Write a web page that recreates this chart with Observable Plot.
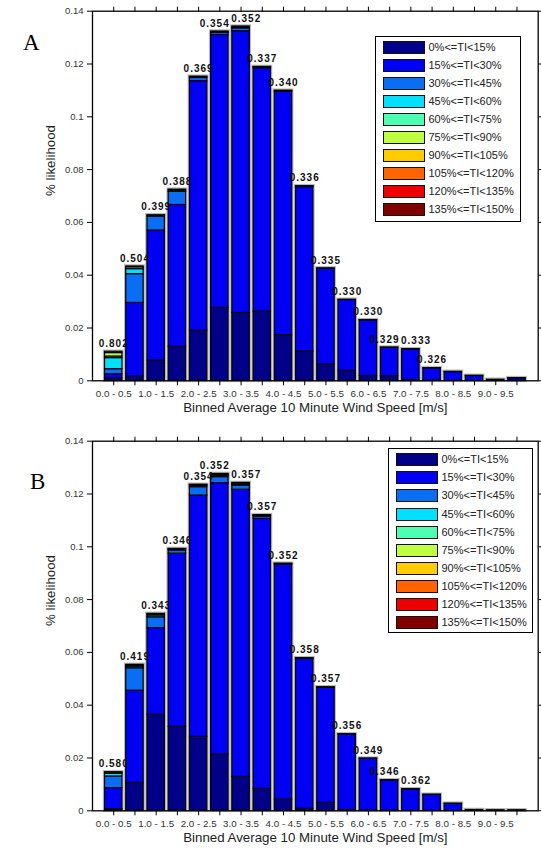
<!DOCTYPE html>
<html><head><meta charset="utf-8">
<script src="https://cdn.jsdelivr.net/npm/d3@7"></script>
<script src="https://cdn.jsdelivr.net/npm/@observablehq/plot@0.6"></script>
<style>
body{margin:0;background:#fff;width:541px;}
.panel{position:relative;width:541px;}
.panel svg{display:block;}
.legend{position:absolute;border:1.3px solid #000;background:#fff;box-sizing:border-box;font-family:"Liberation Sans",Arial,sans-serif;font-size:11px;color:#222;}
.legend .sw{position:absolute;width:42px;height:13px;border:1px solid #111;box-sizing:border-box;}
.legend .lab{position:absolute;white-space:nowrap;line-height:13px;}
</style></head><body><div id="chart"></div>
<script>
const bins = ["0.0 - 0.5","0.5 - 1.0","1.0 - 1.5","1.5 - 2.0","2.0 - 2.5","2.5 - 3.0","3.0 - 3.5","3.5 - 4.0","4.0 - 4.5","4.5 - 5.0",
              "5.0 - 5.5","5.5 - 6.0","6.0 - 6.5","6.5 - 7.0","7.0 - 7.5","7.5 - 8.0","8.0 - 8.5","8.5 - 9.0","9.0 - 9.5","9.5 - 10.0"];
const tiClasses = ["0%<=TI<15%","15%<=TI<30%","30%<=TI<45%","45%<=TI<60%","60%<=TI<75%","75%<=TI<90%","90%<=TI<105%","105%<=TI<120%","120%<=TI<135%","135%<=TI<150%"];
const tiColors = ["#000088","#0000f5","#0a6ef5","#00e0ff","#4dffb0","#bfff40","#ffcc00","#ff6400","#ee0000","#800000"];
const yTicks = [0,0.02,0.04,0.06,0.08,0.1,0.12,0.14];
const yTickLabels = ["0","0.02","0.04","0.06","0.08","0.1","0.12","0.14"];

// Panel A: per wind-speed bin, likelihood per TI class
const panelA = [
  [0.0009,0.0016,0.0019,0.0042,0.0006,0.0013,0.0005],
  [0.0016,0.0279,0.0109,0.0019,0.0007,0.0003],
  [0.0077,0.0492,0.0053,0.0003,0.0002],
  [0.0129,0.0537,0.0050,0.0005,0.0003],
  [0.0190,0.0945,0.0012,0.0003,0.0002],
  [0.0276,0.1034,0.0008,0.0003,0.0002],
  [0.0257,0.1067,0.0011,0.0004,0.0003],
  [0.0262,0.0922,0.0003,0.0002],
  [0.0173,0.0922,0.0002,0.0002],
  [0.0111,0.0623,0.0002,0.0001],
  [0.0062,0.0362,0.0002],
  [0.0038,0.0268,0.0001],
  [0.0018,0.0211,0.0001],
  [0.0018,0.0107,0.0001],
  [0.0003,0.0116,0.0001],
  [0.0001,0.0046,0.0001],
  [0,0.0033,0.0001],
  [0,0.0018,0.0001],
  [0,0.0004],
  [0,0.0009,0.0001]
];
const labelsA = ["0.802","0.504","0.399","0.388","0.369","0.354","0.352","0.337","0.340","0.336","0.335","0.330","0.330","0.329","0.333","0.326"];

// Panel B
const panelB = [
  [0.0006,0.0080,0.0044,0.0010,0.0004,0.0002],
  [0.0106,0.0349,0.0085,0.0006,0.0004,0.0003],
  [0.0364,0.0328,0.0041,0.0007,0.0004,0.0002],
  [0.0318,0.0656,0.0012,0.0003,0.0002,0.0001],
  [0.0280,0.0914,0.0032,0.0005,0.0003,0.0001],
  [0.0213,0.1028,0.0023,0.0005,0.0004,0.0002,0.0001],
  [0.0129,0.1087,0.0016,0.0003,0.0005,0.0002],
  [0.0083,0.1023,0.0008,0.0003,0.0002,0.0001],
  [0.0042,0.0890,0.0003,0.0001],
  [0.0008,0.0567,0.0002,0.0001],
  [0.0030,0.0436,0.0001,0.0001],
  [0.0003,0.0286,0.0001],
  [0.0001,0.0196,0.0001],
  [0.0001,0.0114,0.0001],
  [0,0.0081,0.0001],
  [0,0.0060,0.0001],
  [0,0.0026,0.0001],
  [0,0.0003],
  [0,0.0002],
  [0,0.0002]
];
const labelsB = ["0.580","0.419","0.343","0.346","0.354","0.352","0.357","0.357","0.352","0.358","0.357","0.356","0.349","0.346","0.362"];

const binIdx = bins.map((d,i)=>i+1);
const halfW = 0.41;

function drawPanel({values, labels, letter, letterX, letterDy, height, marginBottom, legend}) {
  const rows = [];
  values.forEach((vals, i) => {
    let acc = 0;
    vals.forEach((v, k) => { if (v > 0) { rows.push({bin: i+1, cls: tiClasses[k], y1: acc, y2: acc+v}); acc += v; } });
  });
  const totals = values.map((vals, i) => ({bin: i+1, total: d3.sum(vals), label: labels[i] ?? null}));
  const svg = Plot.plot({
    width: 541, height, marginLeft: 92, marginRight: 3.3, marginTop: 10.7, marginBottom,
    x: {domain: [0, 21], axis: null},
    y: {domain: [0, 0.14], axis: null},
    color: {domain: tiClasses, range: tiColors},
    style: {fontFamily: "Liberation Sans, Arial, sans-serif", background: "#fff", overflow: "visible"},
    marks: [
      Plot.rect(totals, {x1: d => d.bin - halfW, x2: d => d.bin + halfW, y1: 0, y2: "total", fill: "none", stroke: "#b8b8b8", strokeWidth: 3.5}),
      Plot.rect(rows, {x1: d => d.bin - halfW, x2: d => d.bin + halfW, y1: "y1", y2: "y2", fill: "cls", stroke: "#000", strokeWidth: 1.2}),
      Plot.frame({stroke: "#000", strokeWidth: 1.3}),
      Plot.axisY({ticks: yTicks, tickFormat: d => yTickLabels[yTicks.indexOf(d)], tickSize: 5, tickPadding: 4, fontSize: 9.5, fill: "#333", label: null}),
      Plot.axisY({anchor: "right", ticks: yTicks, tickFormat: () => "", tickSize: 4, label: null}),
      Plot.axisX({ticks: binIdx, tickFormat: d => (d % 2 === 1 ? bins[d-1] : ""), tickSize: 5, tickPadding: 4, fontSize: 9.8, fill: "#333", label: null}),
      Plot.axisX({anchor: "top", ticks: binIdx, tickFormat: () => "", tickSize: 5, label: null}),
      Plot.text(totals.filter(d => d.label), {x: "bin", y: "total", text: "label", dy: -8, fontWeight: "bold", fontSize: 10, fill: "#111"}),
      Plot.text(["% likelihood"], {frameAnchor: "left", rotate: -90, dx: -42, fontSize: 13.3, fill: "#222"}),
      Plot.text(["Binned Average 10 Minute Wind Speed [m/s]"], {frameAnchor: "bottom", dy: 31, fontSize: 13.3, fill: "#222"}),
      Plot.text([letter], {frameAnchor: "top-left", dx: letterX - 92, dy: letterDy, fontFamily: "Liberation Serif, Times New Roman, serif", fontSize: 23, fill: "#000"})
    ]
  });
  const wrap = document.createElement("div");
  wrap.className = "panel";
  wrap.appendChild(svg);
  const lg = document.createElement("div");
  lg.className = "legend";
  Object.assign(lg.style, {left: legend.left + "px", top: legend.top + "px", width: legend.width + "px", height: legend.height + "px"});
  tiClasses.forEach((c, k) => {
    const cy = legend.firstRow + k * legend.step;
    const sw = document.createElement("div");
    sw.className = "sw";
    Object.assign(sw.style, {left: legend.swLeft + "px", top: (cy - 6.5) + "px", background: tiColors[k]});
    const lab = document.createElement("div");
    lab.className = "lab";
    lab.textContent = c;
    Object.assign(lab.style, {left: legend.textLeft + "px", top: (cy - 6.5) + "px"});
    lg.appendChild(sw); lg.appendChild(lab);
  });
  wrap.appendChild(lg);
  return {wrap, svg, labels};
}

// spread the value labels apart when neighbours collide
function spreadLabels(svg, labels) {
  const els = d3.select(svg).selectAll("text").filter(function() { return labels.includes(this.textContent); })
    .style("letter-spacing", "1px").nodes();
  const shift = els.map(() => 0);
  for (let pass = 0; pass < 3; pass++) {
    for (let i = 0; i < els.length - 1; i++) {
      const a = els[i].getBoundingClientRect(), b = els[i+1].getBoundingClientRect();
      const vOverlap = a.bottom - 1 > b.top && b.bottom - 1 > a.top;
      const hOverlap = a.right + 1.5 - b.left;
      if (vOverlap && hOverlap > 0) {
        shift[i] -= hOverlap / 2; shift[i+1] += hOverlap / 2;
        els[i].setAttribute("dx", shift[i]); els[i+1].setAttribute("dx", shift[i+1]);
      }
    }
  }
}

const root = document.getElementById("chart");
const pA = drawPanel({values: panelA, labels: labelsA, letter: "A", letterX: 22.5, letterDy: 22.3, height: 430, marginBottom: 49.7,
  legend: {left: 375, top: 36, width: 146, height: 186, firstRow: 10.5, step: 18.05, swLeft: 7, textLeft: 52.5}});
const pB = drawPanel({values: panelB, labels: labelsB, letter: "B", letterX: 29.5, letterDy: 31.6, height: 422, marginBottom: 41.7,
  legend: {left: 387.5, top: 18.3, width: 145, height: 185, firstRow: 10.5, step: 18.1, swLeft: 7.5, textLeft: 53}});
root.appendChild(pA.wrap);
root.appendChild(pB.wrap);
spreadLabels(pA.svg, pA.labels);
spreadLabels(pB.svg, pB.labels);
</script></body></html>
